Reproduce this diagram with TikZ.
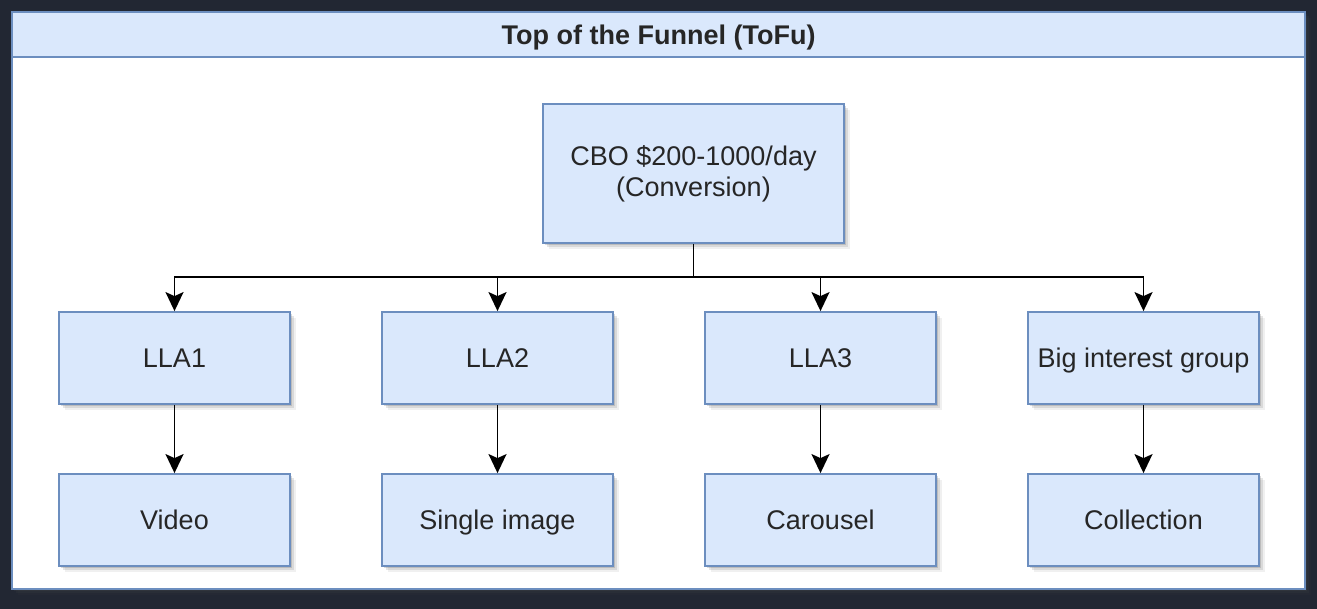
\documentclass[tikz,border=0pt]{standalone}
\usepackage{fontspec}
\setmainfont{Liberation Sans}
\usetikzlibrary{arrows.meta,shadows}
\definecolor{pagebg}{HTML}{222733}
\definecolor{boxfill}{HTML}{DAE8FC}
\definecolor{boxline}{HTML}{6C8EBF}
\definecolor{inktext}{HTML}{262626}
\tikzset{
  softshadow/.style={
    drop shadow={shadow xshift=2pt,shadow yshift=-2pt,opacity=0.20,fill=black!70},
    drop shadow={shadow xshift=4pt,shadow yshift=-4pt,opacity=0.14,fill=black!70},
    drop shadow={shadow xshift=6pt,shadow yshift=-6pt,opacity=0.08,fill=black!70}},
  stagebox/.style={draw=boxline,fill=boxfill,line width=1.8pt,inner sep=0pt,
    minimum width=231pt,minimum height=92pt,text=inktext,
    text height=19.5pt,text depth=0pt,
    font=\fontsize{27}{31}\selectfont,align=center,softshadow},
  flow/.style={draw=black,line width=1.8pt,
    -{Stealth[length=19pt,width=18pt,inset=4pt]}}
}
\begin{document}
\begin{tikzpicture}[x=1pt,y=-1pt]
  % canvas
  \fill[pagebg] (0,0) rectangle (1317,609);
  \useasboundingbox (0,0) rectangle (1317,609);

  % container with its title band
  \node[draw=boxline,fill=white,line width=1.8pt,inner sep=0pt,
        minimum width=1293pt,minimum height=577pt,softshadow]
        (panel) at (658.5,300.5) {};
  \node[draw=boxline,fill=boxfill,line width=1.8pt,inner sep=0pt,
        minimum width=1293pt,minimum height=45pt,text=inktext,
        text height=19.5pt,text depth=0pt,
        font=\fontsize{27}{31}\selectfont\bfseries]
        (title) at (658.5,34.5) {Top of the Funnel (ToFu)};

  % campaign budget node
  \node[stagebox,minimum width=301pt,minimum height=139pt,
        text height=,text depth=]
        (cbo) at (693.5,173.5) {CBO \$200-1000/day\\(Conversion)};

  % ad sets
  \node[stagebox] (lla1) at (174.5,358) {LLA1};
  \node[stagebox] (lla2) at (497.5,358) {LLA2};
  \node[stagebox] (lla3) at (820.5,358) {LLA3};
  \node[stagebox] (big)  at (1143.5,358) {Big interest group};

  % ad formats
  \node[stagebox] (video)  at (174.5,520) {Video};
  \node[stagebox] (single) at (497.5,520) {Single image};
  \node[stagebox] (carou)  at (820.5,520) {Carousel};
  \node[stagebox] (coll)   at (1143.5,520) {Collection};

  % connectors
  \coordinate (bus) at (693.5,277);
  \draw[flow] (cbo.south) -- (bus) -| (lla1.north);
  \draw[flow] (bus) -| (lla2.north);
  \draw[flow] (bus) -| (lla3.north);
  \draw[flow] (bus) -| (big.north);

  \draw[flow] (lla1.south) -- (video.north);
  \draw[flow] (lla2.south) -- (single.north);
  \draw[flow] (lla3.south) -- (carou.north);
  \draw[flow] (big.south)  -- (coll.north);
\end{tikzpicture}
\end{document}
